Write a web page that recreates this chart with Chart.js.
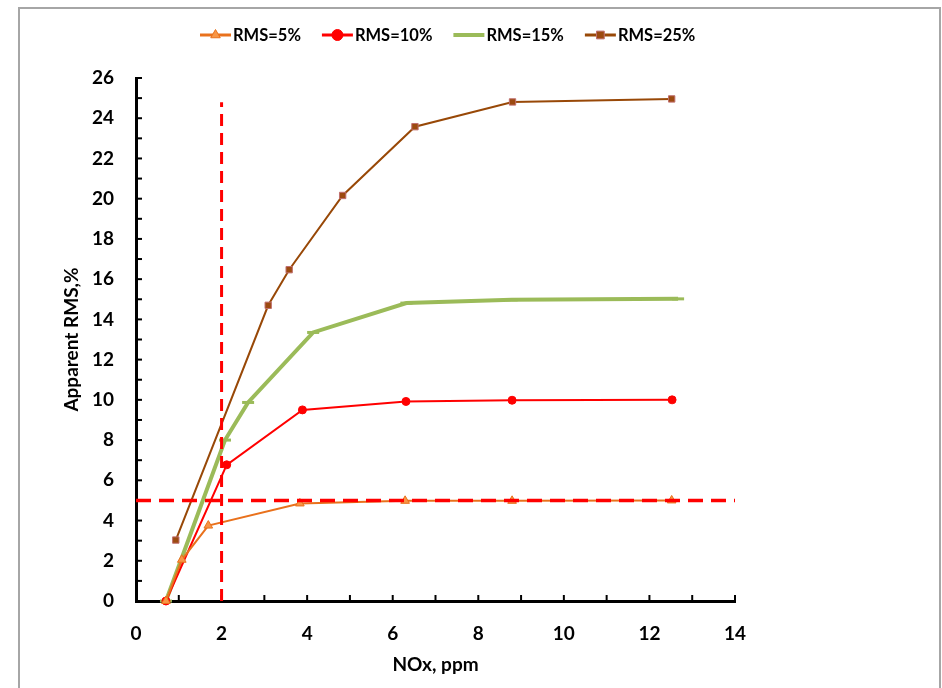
<!DOCTYPE html>
<html>
<head>
<meta charset="utf-8">
<script src="https://cdn.jsdelivr.net/npm/chart.js@4.4.0/dist/chart.umd.min.js"></script>
<style>
html, body { margin: 0; padding: 0; background: #fff; }
#wrap { position: relative; width: 942px; height: 688px; overflow: hidden; }
#frame { position: absolute; left: 18px; top: 7px; width: 919px; height: 700px; border: 2px solid #a6a6a6; }
#chart { position: absolute; left: 0; top: 0; }
</style>
</head>
<body>
<div id="wrap">
  <div id="frame"></div>
  <canvas id="chart" width="942" height="688"></canvas>
</div>
<script>
// values
const seriesLabels = ['RMS=5%', 'RMS=10%', 'RMS=15%', 'RMS=25%'];

const nox5  = [0.7, 1.07, 1.69, 3.83, 6.29, 8.79, 12.52];
const rms5  = [0, 2.05, 3.75, 4.85, 4.98, 4.98, 5.0];

const nox10 = [0.7, 2.12, 3.89, 6.31, 8.79, 12.53];
const rms10 = [0, 6.77, 9.5, 9.92, 9.98, 10.0];

const nox15 = [0.7, 2.08, 2.62, 4.14, 6.32, 8.78, 12.67];
const rms15 = [0, 8.0, 9.87, 13.35, 14.81, 14.97, 15.02];

const nox25 = [0.93, 3.09, 3.58, 4.83, 6.52, 8.80, 12.52];
const rms25 = [3.03, 14.7, 16.47, 20.16, 23.58, 24.81, 24.96];

// dashed reference lines
const refLineX = [0, 14];
const refLineY = [5, 5];
const refColX = [2, 2];
const refColY = [0, 24.8];

const xRange = [0, 14];
const yRange = [0, 26];
const tickStep = 2;

const FONT = 'Lato, "Open Sans", sans-serif';

const pts = (xs, ys) => xs.map((x, i) => ({ x: x, y: ys[i] }));

// tick marks pointing into the plot, every unit
const innerTicks = {
    id: 'innerTicks',
    beforeDatasetsDraw(chart) {
        const { ctx, scales: { x, y } } = chart;
        ctx.save();
        ctx.strokeStyle = '#000';
        ctx.lineWidth = 2;
        for (let v = x.min + 1; v <= x.max; v++) {
            const px = x.getPixelForValue(v);
            ctx.beginPath();
            ctx.moveTo(px, y.bottom);
            ctx.lineTo(px, y.bottom - 6);
            ctx.stroke();
        }
        for (let v = y.min + 1; v <= y.max; v++) {
            const py = y.getPixelForValue(v);
            ctx.beginPath();
            ctx.moveTo(x.left, py);
            ctx.lineTo(x.left + 6, py);
            ctx.stroke();
        }
        ctx.restore();
    }
};

// legend drawn as line + marker + label, like the spreadsheet one
const lineLegend = {
    id: 'lineLegend',
    afterDraw(chart) {
        const ctx = chart.ctx;
        let xPos = 200;
        const yPos = 35;
        ctx.save();
        ctx.font = 'bold 16.5px ' + FONT;
        ctx.textBaseline = 'middle';
        chart.data.datasets.forEach(ds => {
            if (ds.isRef) return;
            ctx.strokeStyle = ds.borderColor;
            ctx.lineWidth = Math.max(ds.borderWidth, 3);
            ctx.setLineDash([]);
            ctx.beginPath();
            ctx.moveTo(xPos, yPos);
            ctx.lineTo(xPos + 31, yPos);
            ctx.stroke();
            if (ds.pointStyle !== 'line') {
                ctx.fillStyle = ds.pointBackgroundColor;
                ctx.strokeStyle = ds.pointBorderColor;
                ctx.lineWidth = 1;
                Chart.helpers.drawPoint(ctx, {
                    pointStyle: ds.pointStyle,
                    radius: 5.5,
                    borderWidth: 1
                }, xPos + 15.5, yPos);
            }
            ctx.fillStyle = '#000';
            ctx.fillText(ds.label, xPos + 33, yPos + 1);
            xPos += 33 + ctx.measureText(ds.label).width + 21;
        });
        ctx.restore();
    }
};

const ctx = document.getElementById('chart').getContext('2d');
const chart = new Chart(ctx, {
    type: 'scatter',
    data: {
        datasets: [
            {
                label: 'ref-h', isRef: true,
                data: pts(refLineX, refLineY),
                showLine: true, borderColor: '#ff0000', borderWidth: 3.5,
                borderDash: [15, 8], pointRadius: 0, order: 0
            },
            {
                label: 'ref-v', isRef: true,
                data: pts(refColX, refColY),
                showLine: true, borderColor: '#ff0000', borderWidth: 3,
                borderDash: [12, 7], pointRadius: 0, order: 0
            },
            {
                label: seriesLabels[0],
                data: pts(nox5, rms5),
                showLine: true, borderColor: '#e9711c', borderWidth: 2,
                pointStyle: 'triangle', pointRadius: 5,
                pointBackgroundColor: '#f79646', pointBorderColor: '#e9711c', pointBorderWidth: 1,
                order: 1
            },
            {
                label: seriesLabels[1],
                data: pts(nox10, rms10),
                showLine: true, borderColor: '#ff0000', borderWidth: 2,
                pointStyle: 'circle', pointRadius: 4,
                pointBackgroundColor: '#ff0000', pointBorderColor: '#ff0000', pointBorderWidth: 1,
                order: 2
            },
            {
                label: seriesLabels[2],
                data: pts(nox15, rms15),
                showLine: true, borderColor: '#9bbb59', borderWidth: 4,
                pointStyle: 'line', pointRadius: 6,
                pointBackgroundColor: '#9bbb59', pointBorderColor: '#9bbb59', pointBorderWidth: 3,
                order: 3
            },
            {
                label: seriesLabels[3],
                data: pts(nox25, rms25),
                showLine: true, borderColor: '#984807', borderWidth: 2,
                pointStyle: 'rect', pointRadius: 4.5,
                pointBackgroundColor: '#9c4a10', pointBorderColor: '#c07070', pointBorderWidth: 1,
                order: 4
            }
        ]
    },
    options: {
        responsive: false,
        animation: false,
        clip: false,
        layout: { padding: { left: 0, right: 207, top: 78, bottom: 0 } },
        plugins: {
            legend: { display: false },
            tooltip: { enabled: false }
        },
        scales: {
            x: {
                type: 'linear',
                min: xRange[0], max: xRange[1],
                afterFit: s => { s.height = 87; },
                ticks: { stepSize: tickStep, color: '#000', padding: 21, font: { family: FONT, size: 19, weight: 'bold' } },
                grid: { display: false, drawTicks: false },
                border: { display: true, color: '#000', width: 3 },
                title: { display: true, text: 'NOx, ppm', color: '#000', padding: { top: 0, bottom: 12 }, font: { family: FONT, size: 19, weight: 'bold' } }
            },
            y: {
                type: 'linear',
                min: yRange[0], max: yRange[1],
                afterFit: s => { s.width = 136; },
                ticks: { stepSize: tickStep, color: '#000', padding: 22, font: { family: FONT, size: 19, weight: 'bold' } },
                grid: { display: false, drawTicks: false },
                border: { display: true, color: '#000', width: 3 },
                title: { display: true, text: 'Apparent RMS,%', color: '#000', padding: { top: 60, bottom: 0 }, font: { family: FONT, size: 19, weight: 'bold' } }
            }
        }
    },
    plugins: [innerTicks, lineLegend]
});
</script>
</body>
</html>
